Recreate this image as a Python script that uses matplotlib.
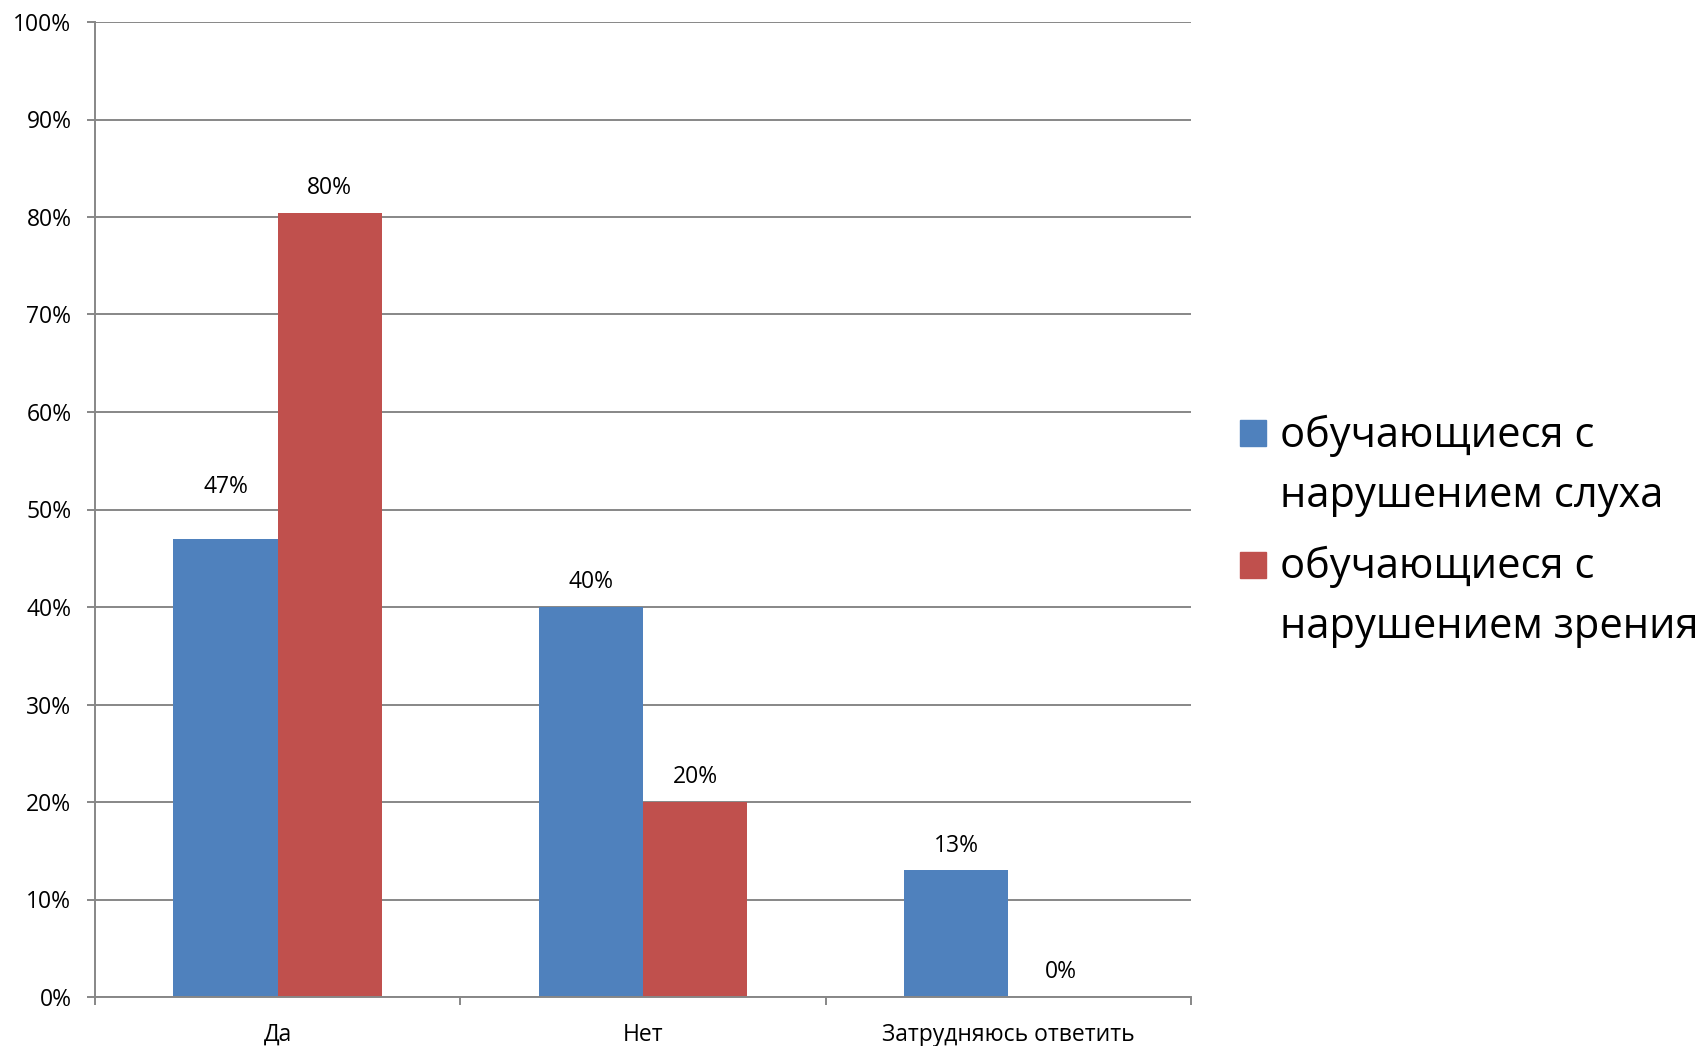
import matplotlib
matplotlib.use("Agg")
import matplotlib.pyplot as plt
from matplotlib.patches import Rectangle
import numpy as np

# data
categories = ["Да", "Нет", "Затрудняюсь ответить"]
hearing = [0.47, 0.40, 0.13]
vision = [0.804, 0.20, 0.0]
series_names = ["обучающиеся с\nнарушением слуха", "обучающиеся с\nнарушением зрения"]
colors = ["#4F81BD", "#C0504D"]

plt.rcParams["font.family"] = ["Open Sans", "DejaVu Sans"]
W, H = 1698, 1046
fig = plt.figure(figsize=(W / 100, H / 100), dpi=100)
ax = fig.add_axes([95 / W, 49 / H, (1191 - 95) / W, (997 - 22) / H])

x = np.arange(len(categories))
bw = 1 / 3.5
for i, (vals, col) in enumerate(zip([hearing, vision], colors)):
    xs = x + (i - 0.5) * bw
    ax.bar(xs, vals, width=bw, color=col, zorder=3)
    for j, (xx, v) in enumerate(zip(xs, vals)):
        # the "Да" label of the first series sits higher in the original
        off = 33 if (i == 0 and j == 0) else 13.5
        ax.annotate(f"{round(v * 100):.0f}%", (xx, v), xytext=(0, off),
                    textcoords="offset points", ha="center", va="baseline",
                    fontsize=16.5, color="black")

gray = "#878787"
ax.set_xlim(-0.5, 2.5)
ax.set_ylim(0, 1)
ax.set_yticks(np.arange(0, 1.01, 0.1))
ax.set_yticklabels([f"{p}%" for p in range(0, 101, 10)])
ax.yaxis.grid(True, color=gray, linewidth=1.4, zorder=0)
ax.tick_params(axis="y", length=6, width=1.4, color=gray, pad=11, labelsize=16.5)

ax.set_xticks(x)
ax.set_xticklabels(categories)
ax.set_xticks([-0.5, 0.5, 1.5, 2.5], minor=True)
ax.tick_params(axis="x", which="major", length=0, pad=18.5, labelsize=16.5)
ax.tick_params(axis="x", which="minor", length=6, width=1.4, color=gray)

for s in ["top", "right"]:
    ax.spines[s].set_visible(False)
for s in ["left", "bottom"]:
    ax.spines[s].set_color(gray)
    ax.spines[s].set_linewidth(1.4)
    ax.spines[s].set_zorder(4)

# legend drawn by hand: square next to first line of each label
sq_tops = [420, 552]
base_y = [(447, 507), (578, 638)]
for name, col, top, (b1, b2) in zip(series_names, colors, sq_tops, base_y):
    fig.patches.append(Rectangle((1240 / W, 1 - (top + 26) / H), 26 / W, 26 / H,
                                 transform=fig.transFigure, color=col))
    l1, l2 = name.split("\n")
    fig.text(1280 / W, 1 - b1 / H, l1, fontsize=30, va="baseline", ha="left")
    fig.text(1280 / W, 1 - b2 / H, l2, fontsize=30, va="baseline", ha="left")

fig.savefig("out.png", dpi=100)
